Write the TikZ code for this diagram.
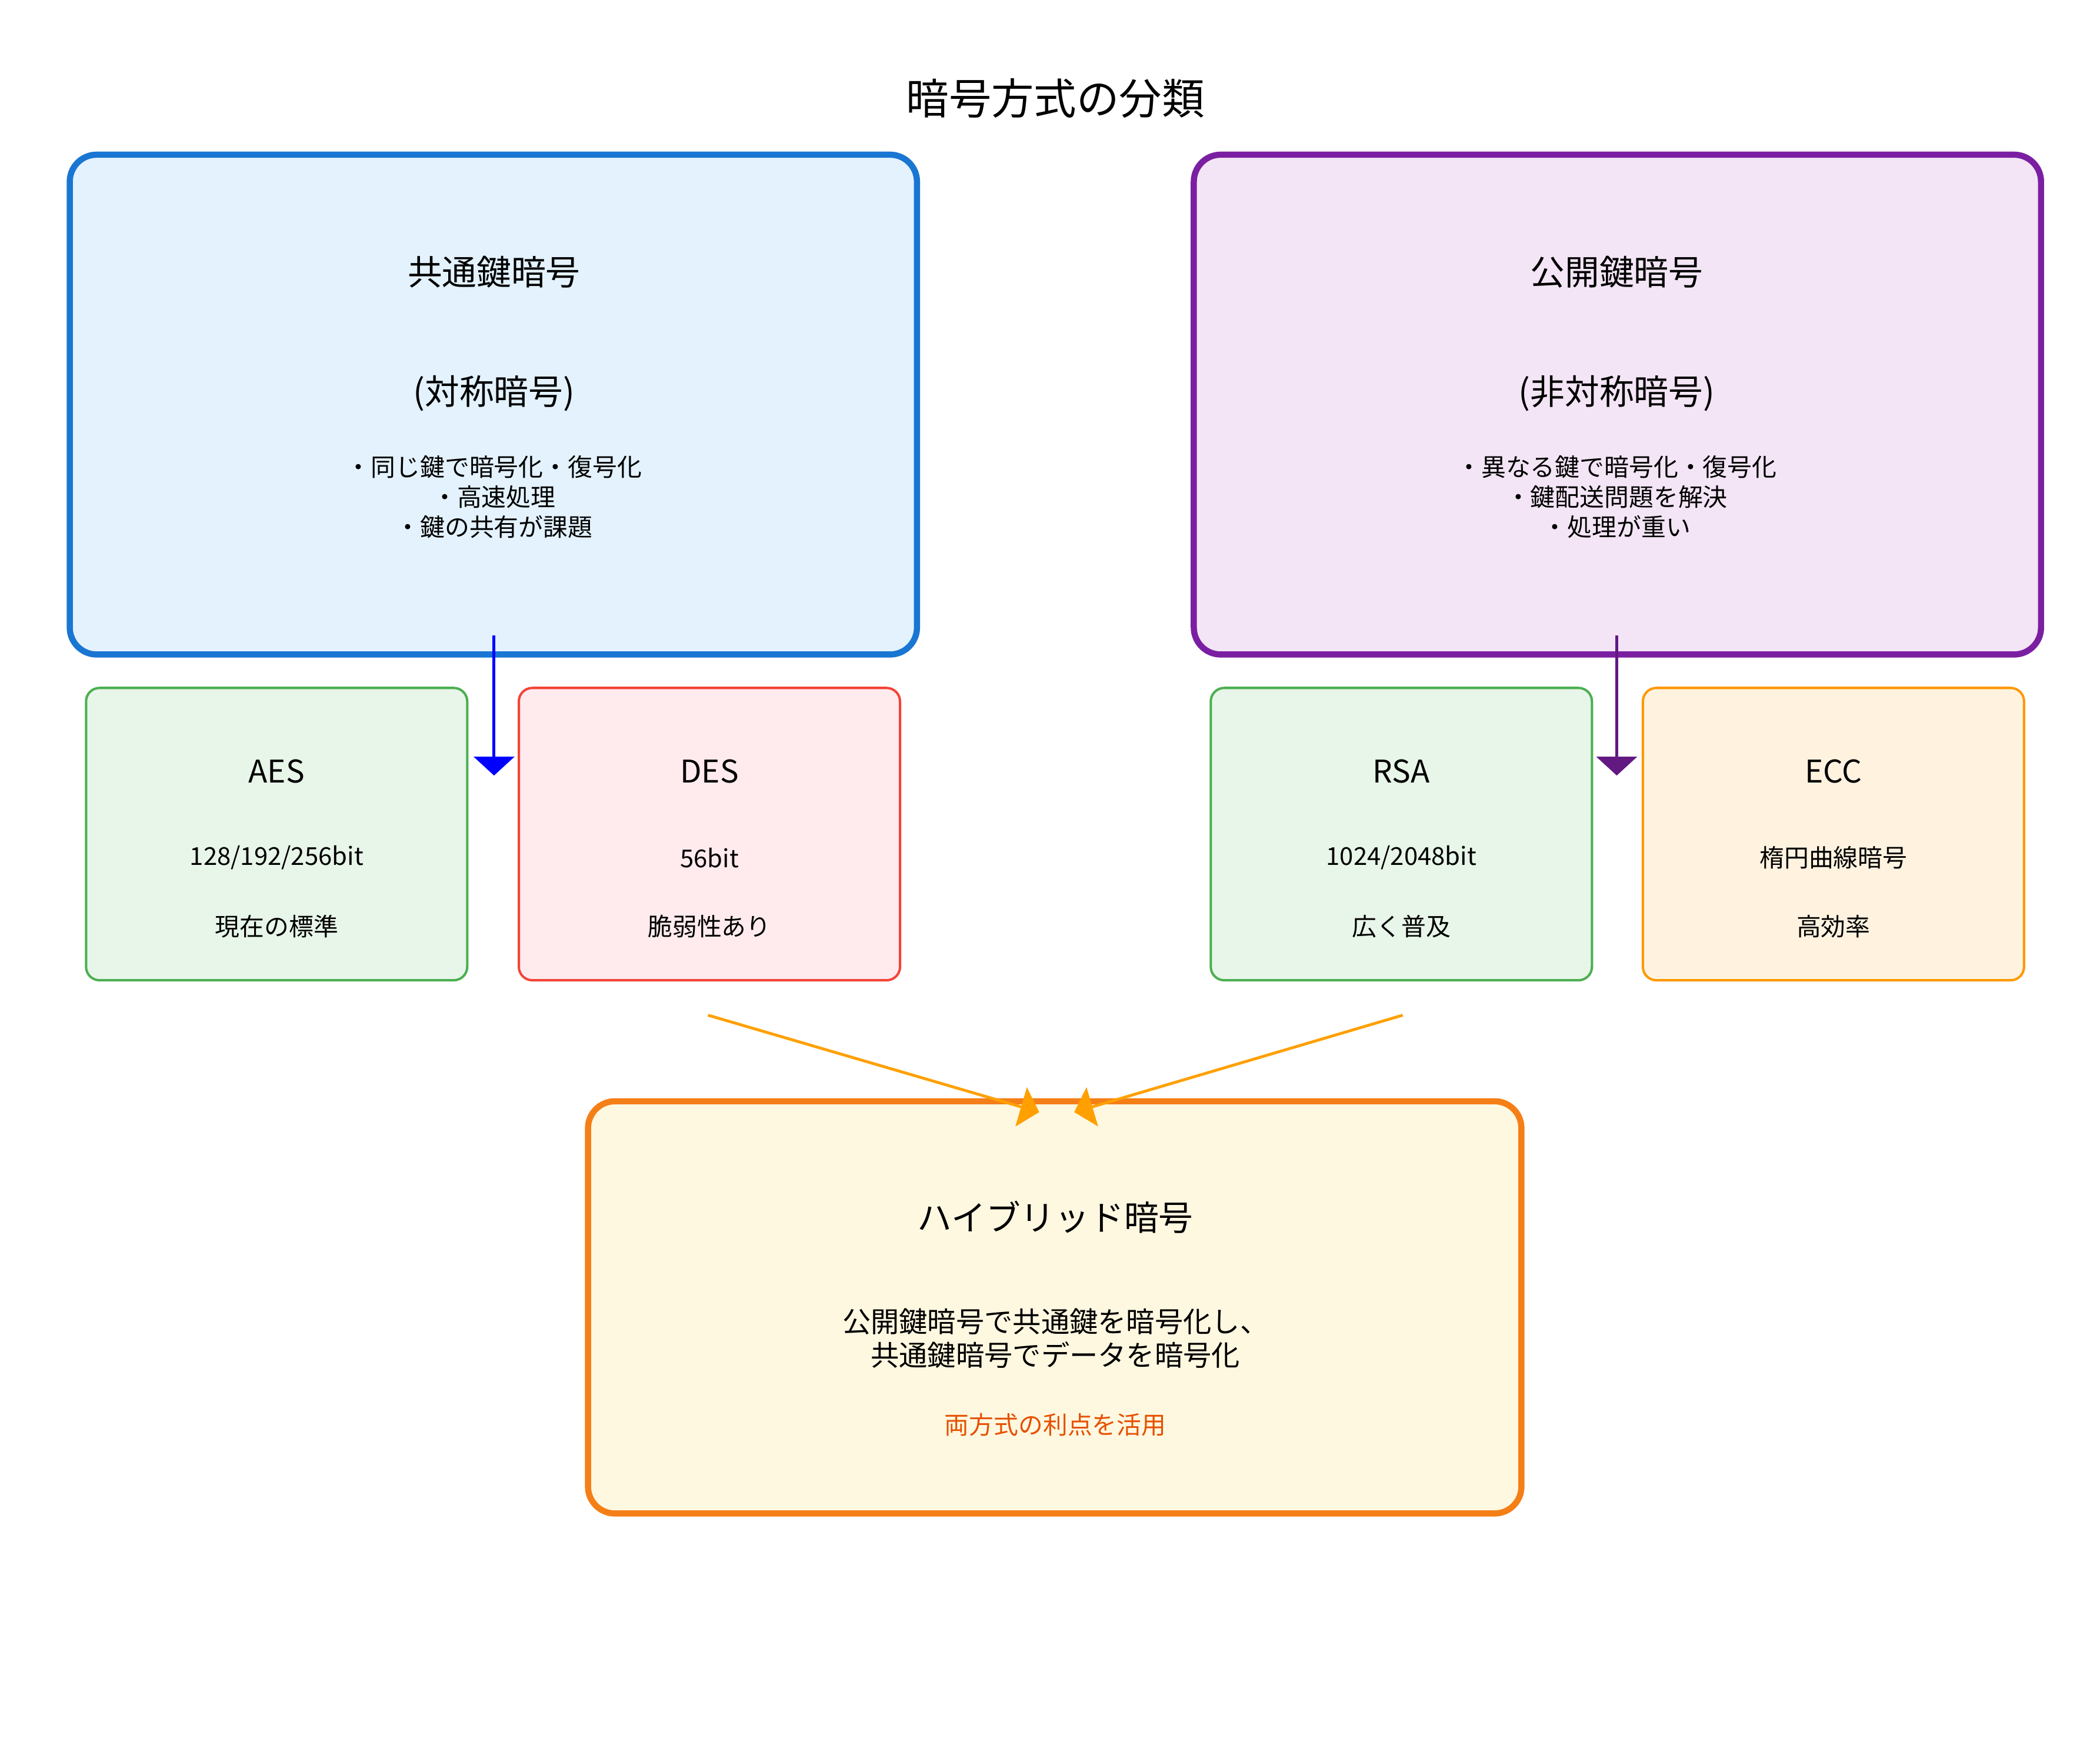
\documentclass[tikz,border=0pt]{standalone}
\usepackage{fontspec}
\setmainfont{Noto Sans CJK JP}
\usetikzlibrary{arrows.meta,positioning}
\definecolor{symblue}{HTML}{1976D2}\definecolor{symfill}{HTML}{E3F2FD}
\definecolor{pubpurple}{HTML}{7B1FA2}\definecolor{pubfill}{HTML}{F3E5F5}
\definecolor{algreen}{HTML}{4CAF50}\definecolor{grfill}{HTML}{E8F5E9}
\definecolor{alred}{HTML}{F44336}\definecolor{rdfill}{HTML}{FFEBEE}
\definecolor{alorange}{HTML}{FF9800}\definecolor{orfill}{HTML}{FFF3E0}
\definecolor{hyborange}{HTML}{F57F17}\definecolor{hybfill}{HTML}{FFF8E1}
\definecolor{hybtext}{HTML}{E65100}\definecolor{hybarrow}{HTML}{FFA000}
\tikzset{
  bigbox/.style={draw, line width=1.3pt, rounded corners=0.2cm, minimum width=6.29cm, minimum height=3.71cm},
  algbox/.style={draw, line width=0.5pt, rounded corners=0.1cm, minimum width=2.83cm, minimum height=2.17cm},
  txt/.style={inner sep=0pt, align=center},
  ttl/.style={txt, font=\fontsize{7.3pt}{8.5pt}\selectfont},
  alg/.style={txt, font=\fontsize{6.6pt}{8pt}\selectfont},
  sml/.style={txt, font=\fontsize{5.2pt}{6.3pt}\selectfont},
  tip/.style={-{Triangle[length=0.14cm,width=0.3cm]}, line width=0.6pt}
}
\begin{document}
\begin{tikzpicture}[x=0.01cm,y=-0.01cm]
  \useasboundingbox (0,0) rectangle (1560,1298);
  \node[txt, font=\fontsize{9pt}{10pt}\selectfont] (title) at (784,73) {暗号方式の分類};
  % main groups
  \node[bigbox, draw=symblue, fill=symfill] (sym) at (366.5,300.5) {};
  \node[ttl] (symname) at (367,202) {共通鍵暗号};
  \node[ttl] (symsub) at (367,292) {(対称暗号)};
  \node[sml] (symnote) at (367,369) {・同じ鍵で暗号化・復号化\\ ・高速処理\\ ・鍵の共有が課題};
  \node[bigbox, draw=pubpurple, fill=pubfill] (pub) at (1201.5,300.5) {};
  \node[ttl] (pubname) at (1201,202) {公開鍵暗号};
  \node[ttl] (pubsub) at (1201,292) {(非対称暗号)};
  \node[sml] (pubnote) at (1201,369) {・異なる鍵で暗号化・復号化\\ ・鍵配送問題を解決\\ ・処理が重い};
  % algorithms
  \node[algbox, draw=algreen, fill=grfill] (aes) at (205.5,619.5) {};
  \node[alg] at (205.5,573) {AES};
  \node[sml] at (205.5,637) {128/192/256bit};
  \node[sml] at (205.5,688) {現在の標準};
  \node[algbox, draw=alred, fill=rdfill] (des) at (527,619.5) {};
  \node[alg] at (527,573) {DES};
  \node[sml] at (527,637) {56bit};
  \node[sml] at (527,688) {脆弱性あり};
  \node[algbox, draw=algreen, fill=grfill] (rsa) at (1041,619.5) {};
  \node[alg] at (1041,573) {RSA};
  \node[sml] at (1041,637) {1024/2048bit};
  \node[sml] at (1041,688) {広く普及};
  \node[algbox, draw=alorange, fill=orfill] (ecc) at (1362,619.5) {};
  \node[alg] at (1362,573) {ECC};
  \node[sml] at (1362,637) {楕円曲線暗号};
  \node[sml] at (1362,688) {高効率};
  % hybrid
  \node[bigbox, draw=hyborange, fill=hybfill, minimum width=6.93cm, minimum height=3.06cm] (hyb) at (783.5,971) {};
  \node[ttl] at (784,904) {ハイブリッド暗号};
  \node[txt, font=\fontsize{6pt}{7.2pt}\selectfont] at (784,994) {公開鍵暗号で共通鍵を暗号化し、\\ 共通鍵暗号でデータを暗号化};
  \node[sml, text=hybtext] at (784,1058) {両方式の利点を活用};
  % connectors
  \coordinate (symout) at (367,472); \coordinate (symin) at (367,576);
  \coordinate (pubout) at (1201,472); \coordinate (pubin) at (1201,576);
  \coordinate (desout) at (526,754); \coordinate (rsaout) at (1042,754);
  \coordinate (hybl) at (772,826); \coordinate (hybr) at (798,826);
  \draw[tip, blue] (symout) -- (symin);
  \draw[tip, pubpurple!80!black] (pubout) -- (pubin);
  \draw[tip, hybarrow] (desout) -- (hybl);
  \draw[tip, hybarrow] (rsaout) -- (hybr);
\end{tikzpicture}
\end{document}
